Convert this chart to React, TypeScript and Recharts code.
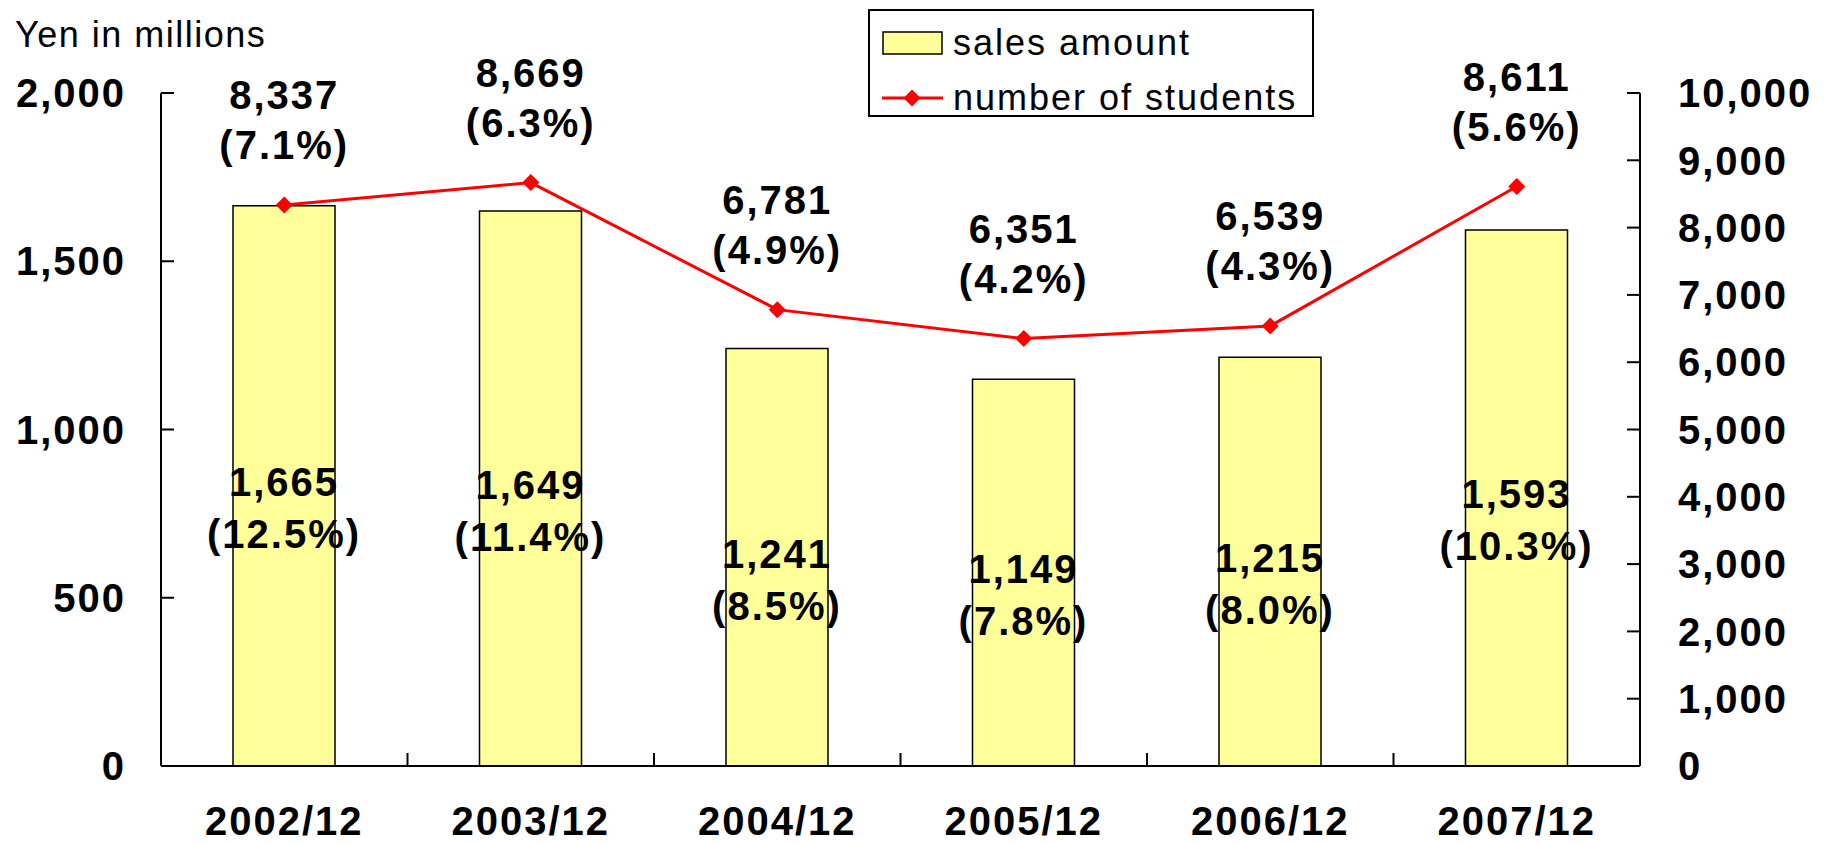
import { Bar, ComposedChart, LabelList, Legend, Line, XAxis, YAxis } from "recharts";

const periods = ["2002/12", "2003/12", "2004/12", "2005/12", "2006/12", "2007/12"];
const salesAmount = [1665, 1649, 1241, 1149, 1215, 1593];
const salesShare = [12.5, 11.4, 8.5, 7.8, 8.0, 10.3];
const studentCount = [8337, 8669, 6781, 6351, 6539, 8611];
const studentShare = [7.1, 6.3, 4.9, 4.2, 4.3, 5.6];
const salesTicks = [0, 500, 1000, 1500, 2000];
const studentTicks = [0, 1000, 2000, 3000, 4000, 5000, 6000, 7000, 8000, 9000, 10000];

const data = periods.map((period, i) => ({ period, sales: salesAmount[i], students: studentCount[i] }));

const FONT = "'Liberation Sans', Arial, sans-serif";
const numberFont = { fill: "#000", fontSize: 40, fontWeight: 700, fontFamily: FONT, letterSpacing: 2 };
const fmt = (v: number) => v.toLocaleString("en-US");
const pct = (v: number) => `(${v.toFixed(1)}%)`;

function SalesLabel(props: any) {
  const { x, y, width, height, index } = props;
  const cx = x + width / 2;
  const mid = y + height / 2;
  return (
    <text textAnchor="middle" {...numberFont}>
      <tspan x={cx} y={mid - 4} dy="0.36em">{fmt(salesAmount[index])}</tspan>
      <tspan x={cx} y={mid + 48} dy="0.36em">{pct(salesShare[index])}</tspan>
    </text>
  );
}

function StudentLabel(props: any) {
  const { x, y, index } = props;
  return (
    <text textAnchor="middle" {...numberFont}>
      <tspan x={x} y={y - 110} dy="0.36em">{fmt(studentCount[index])}</tspan>
      <tspan x={x} y={y - 60} dy="0.36em">{pct(studentShare[index])}</tspan>
    </text>
  );
}

function Diamond(props: any) {
  const { cx, cy } = props;
  if (cx == null || cy == null) return null;
  const r = 8.5;
  return <polygon points={`${cx},${cy - r} ${cx + r},${cy} ${cx},${cy + r} ${cx - r},${cy}`} fill="#ff0000" />;
}

function PeriodTick(props: any) {
  const { x, y, payload, width, visibleTicksCount, index } = props;
  const half = payload?.offset ?? width / visibleTicksCount / 2;
  return (
    <g>
      {index < visibleTicksCount - 1 && (
        <line x1={x + half} x2={x + half} y1={y} y2={y - 13} stroke="#000" strokeWidth={2} />
      )}
      <text x={x} y={y + 55} dy="0.36em" textAnchor="middle" {...numberFont}>
        {payload.value}
      </text>
    </g>
  );
}

function LegendBox() {
  const row = { display: "flex", alignItems: "center", height: 55 } as const;
  return (
    <div
      style={{
        width: 446,
        height: 108,
        boxSizing: "border-box",
        border: "2px solid #000",
        background: "#fff",
        paddingTop: 4,
        paddingLeft: 12,
        fontFamily: FONT,
        fontSize: 36,
        letterSpacing: 2,
        color: "#000",
      }}
    >
      <div style={row}>
        <svg width={61} height={26} style={{ marginRight: 10 }}>
          <rect x={1} y={2} width={59} height={22} fill="#ffff99" stroke="#000" strokeWidth={1.5} />
        </svg>
        <span>sales amount</span>
      </div>
      <div style={row}>
        <svg width={61} height={26} style={{ marginRight: 10 }}>
          <line x1={0} x2={61} y1={13} y2={13} stroke="#ff0000" strokeWidth={3} />
          <polygon points="30,4.5 38.5,13 30,21.5 21.5,13" fill="#ff0000" />
        </svg>
        <span>number of students</span>
      </div>
    </div>
  );
}

export default function App() {
  return (
    <div style={{ position: "absolute", left: 0, top: 0, width: 1827, height: 844, background: "#fff" }}>
      <div
        style={{
          position: "absolute",
          left: 15,
          top: 17,
          fontFamily: FONT,
          fontSize: 36,
          lineHeight: "36px",
          letterSpacing: 1.5,
          color: "#000",
          zIndex: 2,
        }}
      >
        Yen in millions
      </div>
      <ComposedChart width={1827} height={844} data={data} margin={{ top: 93, right: 0, bottom: 0, left: 0 }}>
        <XAxis
          dataKey="period"
          height={78}
          interval={0}
          tickLine={false}
          tickSize={0}
          tickMargin={0}
          axisLine={{ stroke: "#000", strokeWidth: 2 }}
          tick={<PeriodTick />}
        />
        <YAxis
          yAxisId="sales"
          width={161}
          domain={[0, 2000]}
          ticks={salesTicks}
          tickFormatter={fmt}
          tickSize={-13}
          tickMargin={48}
          axisLine={{ stroke: "#000", strokeWidth: 2 }}
          tickLine={{ stroke: "#000", strokeWidth: 2 }}
          tick={numberFont}
        />
        <YAxis
          yAxisId="students"
          orientation="right"
          width={187}
          domain={[0, 10000]}
          ticks={studentTicks}
          tickFormatter={fmt}
          tickSize={-13}
          tickMargin={51}
          axisLine={{ stroke: "#000", strokeWidth: 2 }}
          tickLine={{ stroke: "#000", strokeWidth: 2 }}
          tick={numberFont}
        />
        <Legend
          layout="vertical"
          align="center"
          verticalAlign="middle"
          content={<LegendBox />}
          wrapperStyle={{ left: 868, top: 9, width: 446, height: 108 }}
        />
        <Bar yAxisId="sales" dataKey="sales" name="sales amount" barSize={102} fill="#ffff99" stroke="#000" strokeWidth={1.5} isAnimationActive={false}>
          <LabelList dataKey="sales" content={<SalesLabel />} />
        </Bar>
        <Line
          yAxisId="students"
          dataKey="students"
          name="number of students"
          type="linear"
          stroke="#ff0000"
          strokeWidth={3}
          dot={<Diamond />}
          activeDot={false}
          isAnimationActive={false}
        >
          <LabelList dataKey="students" content={<StudentLabel />} />
        </Line>
      </ComposedChart>
    </div>
  );
}
